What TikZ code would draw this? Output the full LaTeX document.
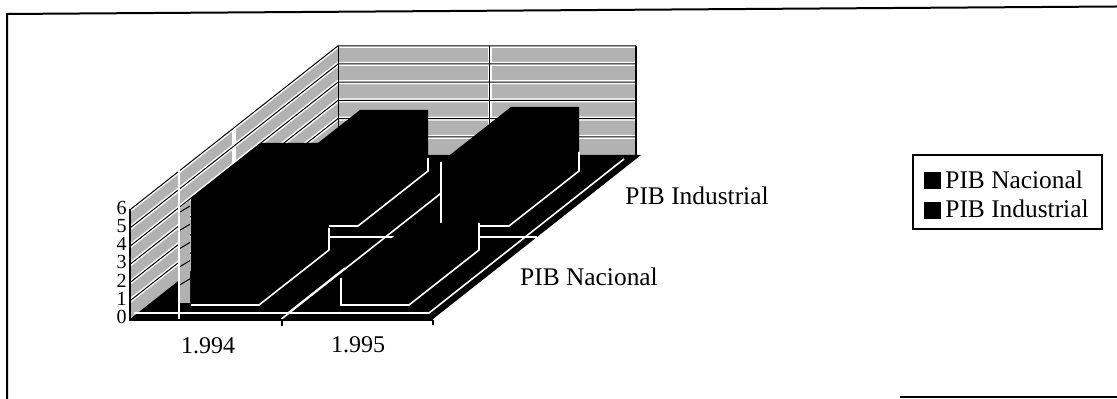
\documentclass[tikz,border=0pt]{standalone}
\usepackage{fontspec}
\setmainfont{Liberation Serif}
\begin{document}
\begin{tikzpicture}[x=0.5pt,y=-0.5pt,
  wallfill/.style={fill=black!30},
  gridw/.style={white,line width=2pt},
  gridb/.style={black,line width=0.5pt},
  edgew/.style={white,line width=0.8pt},
  lab/.style={font=\fontsize{12.7}{14}\selectfont,inner sep=0pt},
  catlab/.style={font=\fontsize{12}{14}\selectfont,inner sep=0pt},
  num/.style={font=\fontsize{10}{10}\selectfont,inner sep=0pt,anchor=east},
  frame/.style={black,line width=1pt}]
\useasboundingbox (0,0) rectangle (1117,399);
% outer frame
\draw[frame] (7,399) -- (7,14) -- (1117,6.5);
\draw[frame] (900,397) -- (1117,397);
% walls
\fill[wallfill] (130,319) -- (130,209.8) -- (338,45.8) -- (338,155) -- cycle;
\fill[wallfill] (338,45.8) rectangle (636,155);
\foreach \v in {1,...,6}{
  \draw[gridw] (130,{319-18.2*\v}) -- (338,{155-18.2*\v}) -- (636,{155-18.2*\v});
}
\draw[gridw] (489.5,45.8) -- (489.5,155);
\draw[gridw] (234,127.8) -- (234,237);
\foreach \v in {1,...,6}{
  \draw[gridb] (130,{319-18.2*\v}) -- (338,{155-18.2*\v}) -- (636,{155-18.2*\v});
}
\draw[gridb] (489.5,45.8) -- (489.5,155);
\draw[gridb] (338,45.8) -- (338,155);
\draw[black,line width=0.8pt] (636,45.8) -- (636,155);
% floor
\fill[black] (130,319) -- (433,319) -- (641,155) -- (338,155) -- cycle;
\draw[edgew] (134,313) -- (429,313) -- (624,159);
\draw[edgew] (281.5,319) -- (489.5,155);
\draw[edgew] (288,313) -- (345,268);
\draw[edgew] (234,237) -- (537,237);
% strip of wall seen left of the front column
\fill[wallfill] (180,303) -- (190,303) -- (190,200) -- (180,208) -- cycle;
\foreach \k in {1,...,5}{
  \draw[gridb] (180,{303-18.2*\k}) -- (190,{297-18.2*\k});
}
\draw[white,line width=1pt] (179,168) -- (179,319);
% columns: a b h
\newcommand\mycol[3]{%
  \fill[black] (#1,#2) -- ({#1+68},#2) -- ({#1+138},{#2-55}) -- ({#1+138},{#2-55-#3})
    -- ({#1+70},{#2-55-#3}) -- (#1,{#2-#3}) -- cycle;}
% PIB Industrial (back row)
\mycol{290}{226}{61}
\draw[edgew] (290,226) -- (358,226) -- (428,171) -- (428,158);
\mycol{441}{226}{64}
\draw[edgew] (441,162) -- (441,226) -- (509,226) -- (579,171) -- (579,152);
% PIB Nacional (front row)
\mycol{191}{305}{107}
\draw[edgew] (191,305) -- (259,305) -- (329,250) -- (329,228);
\mycol{341}{305}{27}
\draw[edgew] (341,278) -- (341,305) -- (409,305) -- (479,250) -- (479,223);
% axes
\draw[black,line width=1.2pt] (130,209) -- (130,320) -- (433,320);
\draw[black,line width=1pt] (281.5,320) -- (281.5,326);
\draw[black,line width=1pt] (433,320) -- (433,325);
\foreach \v in {0,...,6}{
  \node[num] (y\v) at (127,{317-18.2*\v}) {\v};
}
\node[catlab] (c1) at (208,346) {1.994};
\node[catlab] (c2) at (358,345) {1.995};
\node[lab] (sI) at (697,196) {PIB Industrial};
\node[lab] (sN) at (589,277) {PIB Nacional};
% legend
\draw[black,line width=0.8pt] (913,155) rectangle (1102,229);
\fill[black] (924,172) rectangle (941,189);
\fill[black] (924,202) rectangle (941,219);
\node[lab,anchor=west] (lN) at (945,180) {PIB Nacional};
\node[lab,anchor=west] (lI) at (945,209) {PIB Industrial};
\end{tikzpicture}
\end{document}
